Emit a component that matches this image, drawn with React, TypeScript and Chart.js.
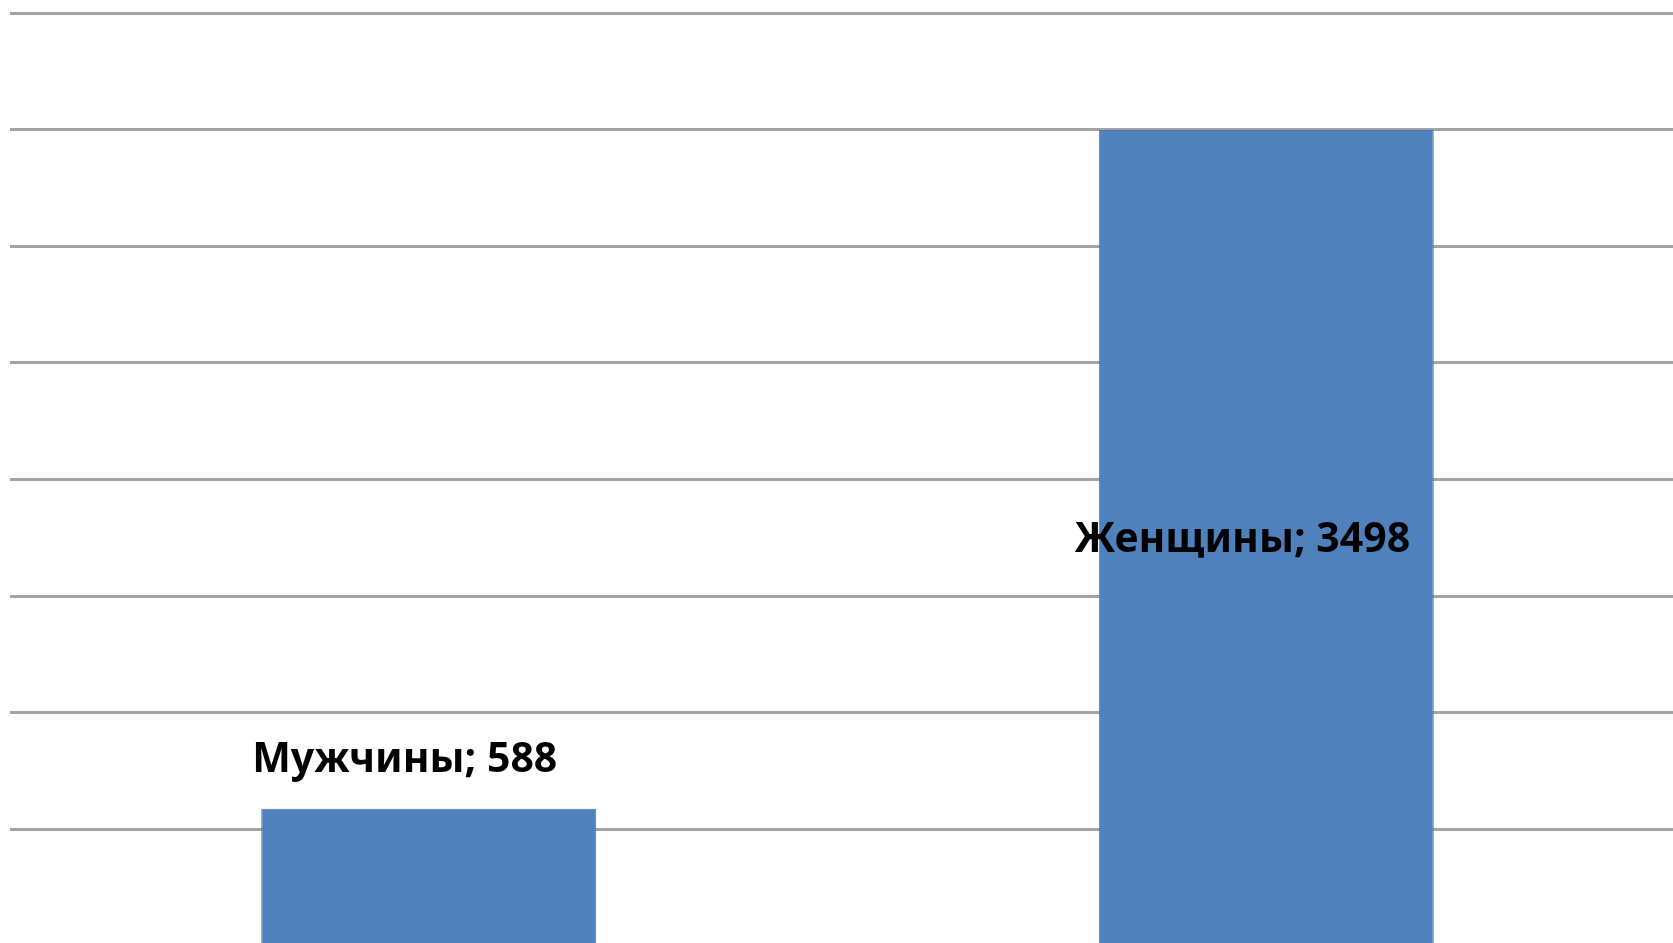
import React, { useEffect, useRef } from "react";
import { Chart, registerables } from "chart.js";

Chart.register(...registerables);

const categories: string[] = ["Мужчины", "Женщины"];
const seriesValues: number[] = [588, 3498];
const tickValues: number[] = [0, 500, 1000, 1500, 2000, 2500, 3000, 3500, 4000];

const labelPlugin = {
  id: "barLabels",
  afterDatasetsDraw(chart: any) {
    const ctx = chart.ctx;
    const meta = chart.getDatasetMeta(0);
    const yScale = chart.scales.y;
    ctx.save();
    ctx.font = "bold 41px 'Noto Sans'";
    ctx.fillStyle = "#000000";
    ctx.textAlign = "center";
    meta.data.forEach((bar: any, i: number) => {
      const text = `${categories[i]}; ${seriesValues[i]}`;
      const x = bar.x - 24;
      if (i === 0) {
        ctx.textBaseline = "alphabetic";
        ctx.fillText(text, x, bar.y - 37);
      } else {
        ctx.textBaseline = "middle";
        const mid = (bar.y + yScale.getPixelForValue(0)) / 2;
        ctx.fillText(text, x, mid + 2);
      }
    });
    ctx.restore();
  },
};

export default function App() {
  const ref = useRef<HTMLCanvasElement | null>(null);
  useEffect(() => {
    if (!ref.current) return;
    const chart = new Chart(ref.current, {
      type: "bar",
      data: {
        labels: categories,
        datasets: [
          {
            data: seriesValues,
            backgroundColor: "#4f81bd",
            borderColor: "#4878b2",
            borderWidth: 1,
            categoryPercentage: 1,
            barPercentage: 0.4,
          },
        ],
      },
      options: {
        animation: false,
        responsive: false,
        maintainAspectRatio: false,
        layout: { padding: { left: 10, right: 15, top: 13, bottom: 14 } },
        plugins: { legend: { display: false }, tooltip: { enabled: false } },
        scales: {
          x: { display: false, grid: { display: false } },
          y: {
            display: true,
            min: tickValues[0],
            max: tickValues[tickValues.length - 1],
            afterBuildTicks: (scale: any) => {
              scale.ticks = tickValues.map((v) => ({ value: v }));
            },
            ticks: { display: false },
            border: { display: false },
            grid: { color: "#a3a3a3", lineWidth: 3, drawTicks: false },
          },
        },
      },
      plugins: [labelPlugin],
    });
    return () => chart.destroy();
  }, []);
  return (
    <div style={{ position: "fixed", left: 0, top: 0, width: 1700, height: 960, background: "#fff" }}>
      <canvas ref={ref} width={1700} height={960} style={{ width: 1700, height: 960 }} />
    </div>
  );
}
